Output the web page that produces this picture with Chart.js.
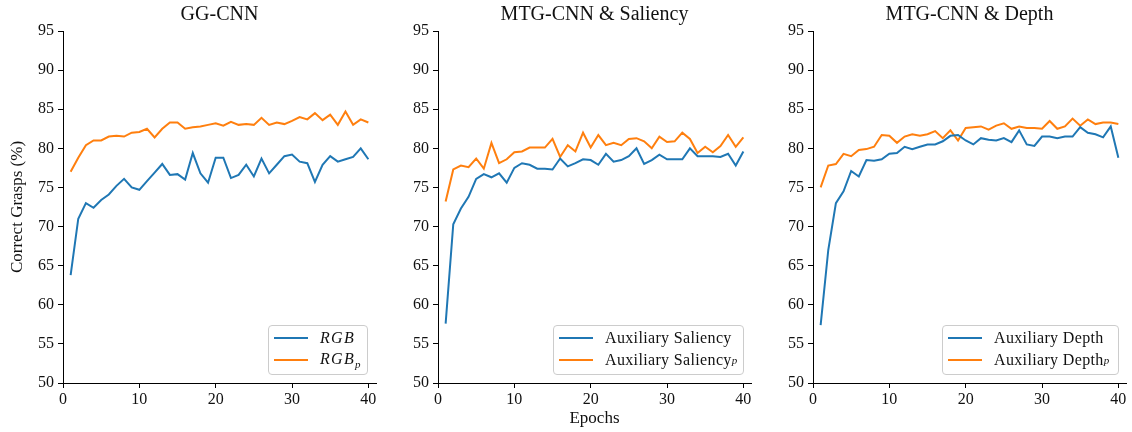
<!DOCTYPE html>
<html>
<head>
<meta charset="utf-8">
<script src="https://cdn.jsdelivr.net/npm/chart.js@4.4.1/dist/chart.umd.min.js"></script>
<style>
  html, body { margin: 0; padding: 0; background: #fff; }
  #wrap { position: relative; width: 1132px; height: 432px; overflow: hidden; font-family: "Liberation Serif", "DejaVu Serif", serif; }
  .panel { position: absolute; top: 0; width: 380px; height: 432px; }
  .legend { position: absolute; box-sizing: border-box; height: 50px; border: 1px solid #cccccc; border-radius: 4px; background: rgba(255,255,255,0.8); font-size: 16px; color: #111; letter-spacing: 0.35px; }
  .row { position: absolute; left: 5px; height: 20px; display: flex; align-items: center; white-space: nowrap; }
  .sw { display: inline-block; width: 34px; height: 2px; margin-right: 12px; }
  .it { font-style: italic; letter-spacing: 1.3px; }
  sub { font-size: 11px; font-style: italic; letter-spacing: 0; }
</style>
</head>
<body>
<div id="wrap">
  <div class="panel" style="left:0px"><canvas id="c1"></canvas></div>
  <div class="panel" style="left:375px"><canvas id="c2"></canvas></div>
  <div class="panel" style="left:750px"><canvas id="c3"></canvas></div>

  <div class="legend" style="left:268px; top:325px; width:100px;">
    <div class="row" style="top:2px"><span class="sw" style="background:#1f77b4"></span><span class="it">RGB</span></div>
    <div class="row" style="top:24px"><span class="sw" style="background:#ff7f0e"></span><span class="it">RGB<sub>p</sub></span></div>
  </div>
  <div class="legend" style="left:553px; top:325px; width:191px;">
    <div class="row" style="top:2px"><span class="sw" style="background:#1f77b4"></span>Auxiliary Saliency</div>
    <div class="row" style="top:24px"><span class="sw" style="background:#ff7f0e"></span>Auxiliary Saliency<sub>p</sub></div>
  </div>
  <div class="legend" style="left:942px; top:325px; width:177px;">
    <div class="row" style="top:2px"><span class="sw" style="background:#1f77b4"></span>Auxiliary Depth</div>
    <div class="row" style="top:24px"><span class="sw" style="background:#ff7f0e"></span>Auxiliary Depth<sub>p</sub></div>
  </div>
</div>
<script>
const epochs = Array.from({length: 40}, (_, i) => i + 1);
const yTicks = [50, 55, 60, 65, 70, 75, 80, 85, 90, 95];
const xTicks = [0, 10, 20, 30, 40];

const ggcnnRGB = [63.8, 71.0, 73.0, 72.4, 73.4, 74.1, 75.2, 76.1, 75.0, 74.7,
  75.8, 76.9, 78.0, 76.6, 76.7, 76.0, 79.4, 76.8, 75.6, 78.8,
  78.8, 76.2, 76.6, 77.9, 76.4, 78.7, 76.8, 77.9, 79.0, 79.2,
  78.3, 78.1, 75.7, 77.9, 79.0, 78.3, 78.6, 78.9, 80.0, 78.6];
const ggcnnRGBp = [77.0, 78.8, 80.4, 81.0, 81.0, 81.5, 81.6, 81.5, 82.0, 82.1,
  82.5, 81.4, 82.5, 83.3, 83.3, 82.5, 82.7, 82.8, 83.0, 83.2,
  82.9, 83.4, 83.0, 83.1, 83.0, 83.9, 83.0, 83.3, 83.1, 83.5,
  84.0, 83.7, 84.5, 83.6, 84.3, 83.0, 84.7, 83.0, 83.7, 83.3];
const salAux = [57.6, 70.3, 72.3, 73.8, 76.1, 76.7, 76.3, 76.8, 75.6, 77.5,
  78.1, 77.9, 77.4, 77.4, 77.3, 78.7, 77.7, 78.1, 78.6, 78.5,
  77.9, 79.3, 78.3, 78.5, 79.0, 80.0, 78.0, 78.5, 79.2, 78.6,
  78.6, 78.6, 80.0, 79.0, 79.0, 79.0, 78.9, 79.3, 77.8, 79.6];
const salAuxP = [73.2, 77.3, 77.8, 77.6, 78.7, 77.4, 80.7, 78.1, 78.6, 79.5,
  79.6, 80.1, 80.1, 80.1, 81.2, 78.9, 80.4, 79.6, 82.0, 80.1,
  81.7, 80.4, 80.7, 80.4, 81.2, 81.3, 80.9, 80.0, 81.5, 80.8,
  80.9, 82.0, 81.2, 79.4, 80.2, 79.5, 80.3, 81.7, 80.2, 81.4];
const depAux = [57.4, 67.0, 73.0, 74.5, 77.1, 76.4, 78.5, 78.4, 78.6, 79.3,
  79.4, 80.2, 79.9, 80.2, 80.5, 80.5, 80.9, 81.6, 81.7, 81.0,
  80.5, 81.3, 81.1, 81.0, 81.3, 80.8, 82.3, 80.5, 80.3, 81.5,
  81.5, 81.3, 81.5, 81.5, 82.7, 82.0, 81.8, 81.4, 82.8, 78.8];
const depAuxP = [75.0, 77.8, 78.0, 79.3, 79.0, 79.8, 79.9, 80.2, 81.7, 81.6,
  80.7, 81.5, 81.8, 81.6, 81.8, 82.2, 81.3, 82.3, 81.0, 82.6,
  82.7, 82.8, 82.4, 82.9, 83.2, 82.5, 82.8, 82.6, 82.6, 82.5,
  83.5, 82.5, 82.8, 83.8, 82.9, 83.7, 83.1, 83.3, 83.3, 83.1];

const BLUE = '#1f77b4', ORANGE = '#ff7f0e';
const FONT = 'Liberation Serif';
const TXT = '#111';

function pts(vals) { return epochs.map((e, i) => ({x: e, y: vals[i]})); }

const titleOverArea = {
  id: 'titleOverArea',
  afterLayout(chart) {
    const t = chart.titleBlock;
    if (t) { t.left = chart.chartArea.left; t.right = chart.chartArea.right; t.width = t.right - t.left; }
  }
};

function makeChart(id, title, s1, s2, labels, showY, showX) {
  new Chart(document.getElementById(id), {
    type: 'line',
    data: {
      datasets: [
        {label: labels[0], data: pts(s1), borderColor: BLUE, borderWidth: 2, pointRadius: 0, tension: 0, fill: false},
        {label: labels[1], data: pts(s2), borderColor: ORANGE, borderWidth: 2, pointRadius: 0, tension: 0, fill: false}
      ]
    },
    plugins: [titleOverArea],
    options: {
      responsive: true,
      maintainAspectRatio: false,
      animation: false,
      layout: {padding: {left: 0, right: 4, top: 0, bottom: 0}},
      plugins: {
        legend: {display: false},
        tooltip: {enabled: false},
        title: {display: true, text: title, color: TXT,
          font: {family: FONT, size: 20, weight: 'normal', lineHeight: 1.2}, padding: {top: 3, bottom: 4}}
      },
      scales: {
        x: {
          type: 'linear', min: 0, max: 41,
          afterBuildTicks: s => { s.ticks = xTicks.map(v => ({value: v})); },
          afterFit: s => { s.height = 49; },
          ticks: {color: TXT, font: {family: FONT, size: 16}, padding: 2, maxRotation: 0, autoSkip: false},
          grid: {drawOnChartArea: false, drawTicks: true, tickLength: 5, color: '#000', tickWidth: 1},
          border: {display: true, color: '#000', width: 1},
          title: {display: showX, text: 'Epochs', color: TXT, font: {family: FONT, size: 17}, padding: {top: 0, bottom: 3}}
        },
        y: {
          type: 'linear', min: 50, max: 95,
          afterBuildTicks: s => { s.ticks = yTicks.map(v => ({value: v})); },
          afterFit: s => { s.width = 63; },
          ticks: {color: TXT, font: {family: FONT, size: 16}, padding: 4},
          grid: {drawOnChartArea: false, drawTicks: true, tickLength: 5, color: '#000', tickWidth: 1},
          border: {display: true, color: '#000', width: 1},
          title: {display: showY, text: 'Correct Grasps (%)', color: TXT, font: {family: FONT, size: 17}, padding: {top: 7, bottom: 0}}
        }
      }
    }
  });
}

makeChart('c1', 'GG-CNN', ggcnnRGB, ggcnnRGBp, ['RGB', 'RGB_p'], true, false);
makeChart('c2', 'MTG-CNN & Saliency', salAux, salAuxP, ['Auxiliary Saliency', 'Auxiliary Saliency_p'], false, true);
makeChart('c3', 'MTG-CNN & Depth', depAux, depAuxP, ['Auxiliary Depth', 'Auxiliary Depth_p'], false, false);
</script>
</body>
</html>
